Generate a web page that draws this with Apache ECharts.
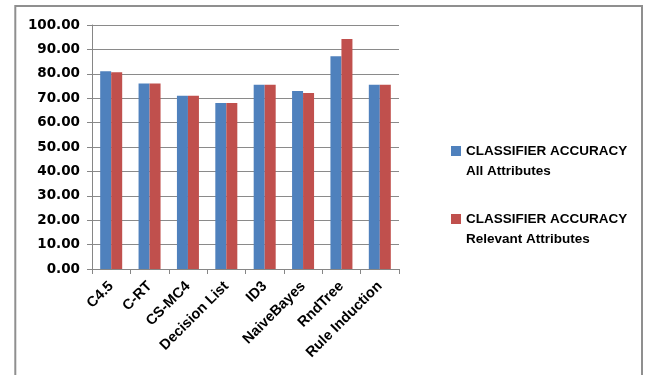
<!DOCTYPE html>
<html>
<head>
<meta charset="utf-8">
<script src="https://cdn.jsdelivr.net/npm/echarts@6/dist/echarts.min.js"></script>
<style>html,body{margin:0;padding:0;background:#fff}#c{width:646px;height:375px}</style>
</head>
<body>
<div id="c"></div>
<script>
const categories = ['C4.5','C-RT','CS-MC4','Decision List','ID3','NaiveBayes','RndTree','Rule Induction'];
const allAttributes = [81.0, 76.0, 71.0, 68.0, 75.5, 73.0, 87.2, 75.5];
const relevantAttributes = [80.6, 76.0, 71.0, 68.0, 75.5, 72.1, 94.3, 75.5];
const seriesNames = ['CLASSIFIER ACCURACY\nAll Attributes', 'CLASSIFIER ACCURACY\nRelevant Attributes'];

const chart = echarts.init(document.getElementById('c'), null, {renderer:'canvas'});
const font = 'Liberation Sans, Arial, sans-serif';
const topIcon = 'path://M0,0h10v10h-10zM0,29.99h0.01v0.01h-0.01z';
chart.setOption({
  animation: false,
  graphic: [{
    type: 'rect', z: -1, silent: true,
    shape: {x: 15.3, y: 6, width: 626.7, height: 400},
    style: {fill: 'none', stroke: '#8f8f8f', lineWidth: 2}
  }],
  grid: {left: 92, right: 247, top: 25, bottom: 106, containLabel: false},
  legend: {
    orient: 'vertical', left: 451, top: 141, itemGap: 28, padding: 0,
    itemWidth: 10, itemHeight: 30, icon: topIcon,
    textStyle: {fontFamily: font, fontWeight: 'bold', fontSize: 13.5, color: '#000', lineHeight: 20}
  },
  xAxis: {
    type: 'category', data: categories,
    axisLine: {lineStyle: {color: '#868686'}},
    axisTick: {show: true, length: 5, lineStyle: {color: '#868686'}},
    axisLabel: {rotate: 45, interval: 0, fontFamily: font, fontWeight: 'bold', fontSize: 14.5, color: '#000', margin: 15}
  },
  yAxis: {
    type: 'value', min: 0, max: 100, interval: 10,
    axisLine: {show: true, lineStyle: {color: '#868686'}},
    axisTick: {show: true, length: 5, lineStyle: {color: '#868686'}},
    splitLine: {lineStyle: {color: '#8a8a8a'}},
    axisLabel: {formatter: v => v.toFixed(2), fontFamily: 'DejaVu Sans, sans-serif', fontWeight: 'bold', fontSize: 13.5, color: '#000', margin: 12}
  },
  series: [
    {name: seriesNames[0], type: 'bar', data: allAttributes, barWidth: 11, barGap: '0%', itemStyle: {color: '#4F81BD'}},
    {name: seriesNames[1], type: 'bar', data: relevantAttributes, barWidth: 11, barGap: '0%', itemStyle: {color: '#C0504D'}}
  ]
});
</script>
</body>
</html>
